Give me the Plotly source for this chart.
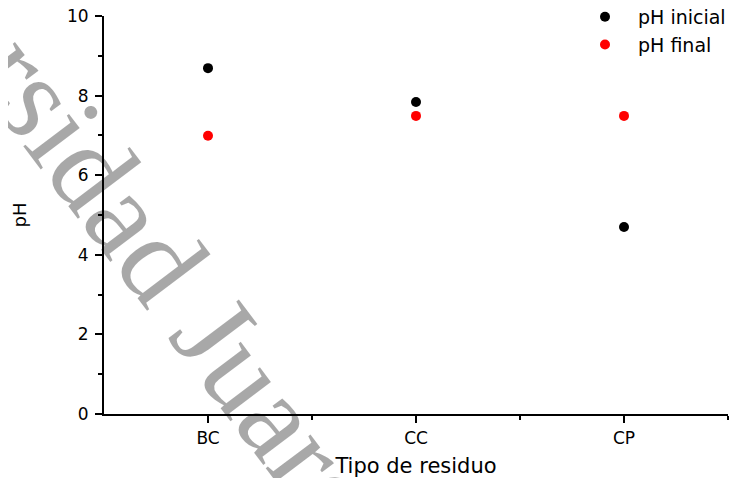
import plotly.graph_objects as go

categories = ["BC", "CC", "CP"]
ph_inicial = [8.69, 7.84, 4.70]
ph_final = [6.99, 7.49, 7.49]
y_ticks = [0, 2, 4, 6, 8, 10]

fig = go.Figure()
fig.add_trace(go.Scatter(x=categories, y=ph_inicial, mode="markers", name="pH inicial",
                         marker=dict(color="black", size=10)))
fig.add_trace(go.Scatter(x=categories, y=ph_final, mode="markers", name="pH final",
                         marker=dict(color="red", size=10)))

font = dict(family="DejaVu Sans, Arial", color="black")
axis_common = dict(showline=True, linecolor="black", linewidth=2, ticks="outside",
                   ticklen=7, tickwidth=1.5, tickcolor="black", showgrid=False,
                   zeroline=False, automargin=False, ticklabeloverflow="allow",
                   tickfont=dict(size=17, **font))
# the page body adds an 8px offset, so margins are shifted by 8px
fig.update_layout(
    template="none",
    width=738, height=478,
    margin=dict(l=96, r=18, t=8, b=72, autoexpand=False),
    paper_bgcolor="white", plot_bgcolor="white",
    showlegend=True,
    legend=dict(x=(564 - 96) / 624, y=1.0455,
                xanchor="left", yanchor="top", bgcolor="rgba(0,0,0,0)", borderwidth=0,
                font=dict(family="DejaVu Sans, Arial", size=19, color="black"),
                itemwidth=56, tracegroupgap=0),
    xaxis=dict(type="category", range=[-0.5, 2.5], ticklabelstandoff=1,
               minor=dict(tickvals=[0.5, 1.5, 2.5], ticks="outside", ticklen=4,
                          tickwidth=1.5, tickcolor="black"),
               title=dict(text="Tipo de residuo", font=dict(size=21, **font), standoff=11),
               **axis_common),
    yaxis=dict(range=[0, 10], tickvals=y_ticks, ticklabelstandoff=3,
               minor=dict(tickvals=[1, 3, 5, 7, 9], ticks="outside", ticklen=4,
                          tickwidth=1.5, tickcolor="black"),
               title=dict(text="pH", font=dict(size=18, **font), standoff=36),
               **axis_common),
)

fig.add_annotation(text="Universidad Juarez", xref="paper", yref="paper",
                   x=(97 - 96) / 624, y=(406 - 177) / 398, xanchor="center", yanchor="middle",
                   showarrow=False, textangle=53,
                   font=dict(family="Liberation Serif", size=122, color="rgba(0,0,0,0.34)"))

fig.write_html("out.html")
